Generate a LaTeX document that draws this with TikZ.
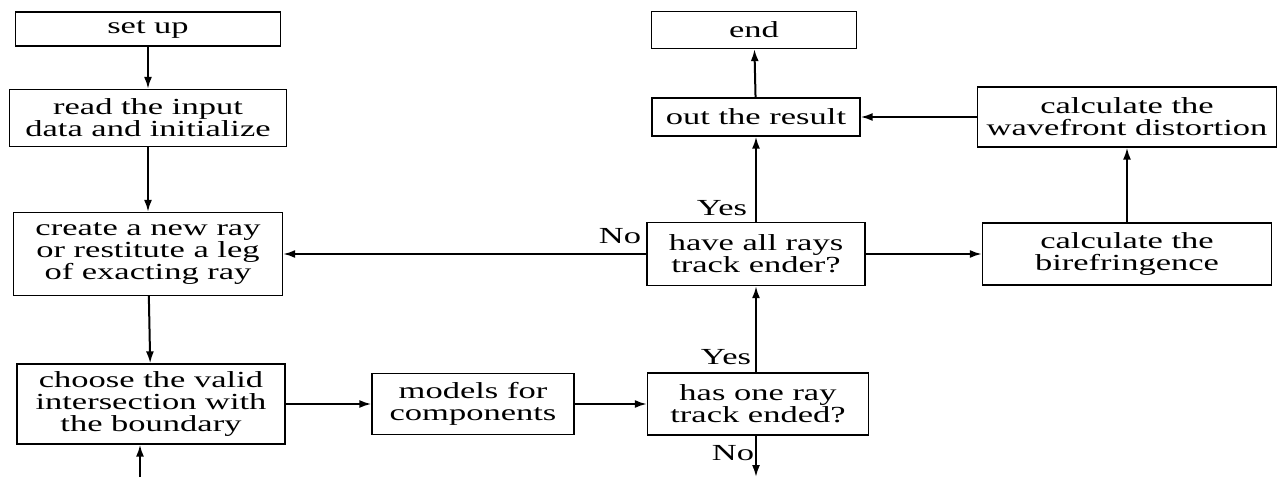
\documentclass[tikz,border=0pt]{standalone}
\usepackage{fontspec}
\setmainfont{Liberation Serif}[FakeStretch=1.5]
\usetikzlibrary{arrows.meta}

\begin{document}
\begin{tikzpicture}[x=1pt,y=-1pt,
    box/.style={draw, line width=1.3pt, align=center, inner sep=0pt, font=\fontsize{23}{22}\selectfont},
    flow/.style={line width=2pt, -{Latex[length=12pt,width=8pt]}},
    lbl/.style={font=\fontsize{23}{22}\selectfont}]
  \useasboundingbox (0,0) rectangle (1286,477);
  % left column
  \node[box, minimum width=265pt, minimum height=34pt] (setup) at (148,29) {set up};
  \node[box, minimum width=277pt, minimum height=57pt] (read) at (148,118) {read the input\\data and initialize};
  \node[box, minimum width=269pt, minimum height=83pt] (create) at (148,254) {create a new ray\\or restitute a leg\\of exacting ray};
  \node[box, minimum width=268pt, minimum height=80pt] (choose) at (151,404) {choose the valid\\intersection with\\the boundary};
  \node[box, minimum width=202pt, minimum height=61pt] (models) at (473,404) {models for\\components};
  % middle column
  \node[box, minimum width=221pt, minimum height=62pt] (hasone) at (758,404) {has one ray\\track ended?};
  \node[box, minimum width=218pt, minimum height=63pt] (haveall) at (756,254) {have all rays\\track ender?};
  \node[box, minimum width=208pt, minimum height=38pt] (out) at (756,117) {out the result};
  \node[box, minimum width=205pt, minimum height=37pt] (end) at (754,30) {end};
  % right column
  \node[box, minimum width=299pt, minimum height=60pt] (wave) at (1127,117) {calculate the\\wavefront distortion};
  \node[box, minimum width=289pt, minimum height=62pt] (bire) at (1127,254) {calculate the\\birefringence};
  % free ends at the bottom
  \coordinate (loopin) at (140,477);
  \coordinate (noout) at (756,477);
  % connectors
  \foreach \a/\b in {setup/read,read/create,create/choose,choose/models,models/hasone,
      haveall/create,haveall/bire,bire/wave,wave/out,out/end}
    \draw[flow] (\a) -- (\b);
  \draw[flow] (hasone.north -| haveall) -- (haveall);
  \draw[flow] (haveall) -- (out);
  \draw[flow] (loopin) -- (loopin |- choose.south);
  \draw[flow] (hasone.south -| noout) -- (noout);
  % labels
  \node[lbl] (no1) at (620,236) {No};
  \node[lbl] (yes1) at (722,208) {Yes};
  \node[lbl] (yes2) at (726,357) {Yes};
  \node[lbl] (no2) at (733,453) {No};
\end{tikzpicture}
\end{document}
